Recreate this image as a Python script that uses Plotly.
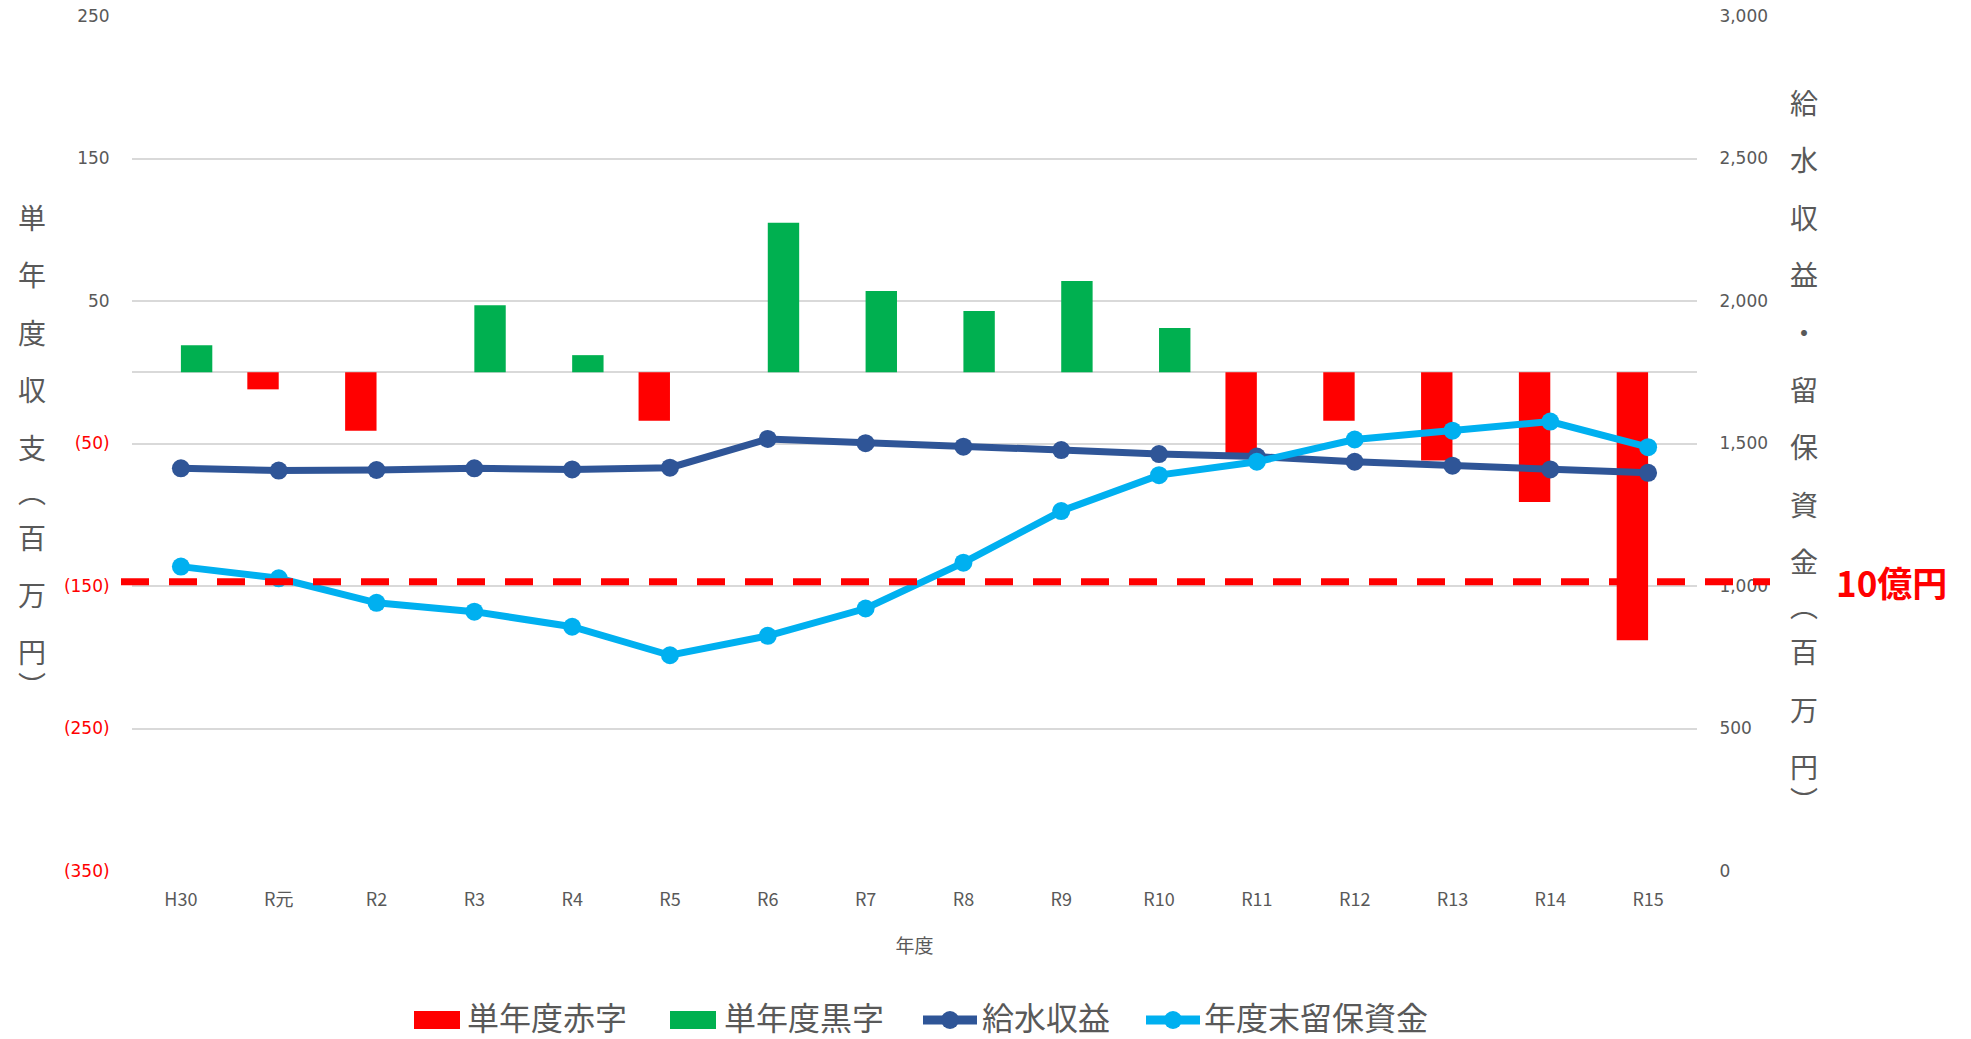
import plotly.graph_objects as go

# ── データ ─────────────────────────────
years = ["H30", "R元", "R2", "R3", "R4", "R5", "R6", "R7",
         "R8", "R9", "R10", "R11", "R12", "R13", "R14", "R15"]

# 単年度収支（百万円）
deficit = [None, -12, -41, None, None, -34, None, None,
           None, None, None, -57, -34, -62, -91, -188]
surplus = [19, None, None, 47, 12, None, 105, 57,
           43, 64, 31, None, None, None, None, None]

# 給水収益・年度末留保資金（百万円）
revenue = [1413, 1405, 1407, 1413, 1409, 1415, 1516, 1501,
           1489, 1477, 1463, 1454, 1436, 1422, 1409, 1397]
reserve = [1068, 1027, 941, 910, 857, 757, 825, 921,
           1082, 1263, 1389, 1436, 1514, 1545, 1577, 1487]

left_ticks = [-350, -250, -150, -50, 50, 150, 250]
right_ticks = [0, 500, 1000, 1500, 2000, 2500, 3000]
threshold = 1015      # 10億円ライン（図上の位置）

RED, GREEN, NAVY, CYAN = "#FF0000", "#00B050", "#2F5597", "#00B0F0"
GRAY = "#595959"
FONT = "Noto Sans CJK JP"

# ページ上のプロット領域（body の 8px マージン分を差し引いて配置）
PAGE_OFF = 8
PL, PR, PT, PB = 132, 1697, 16, 871
FIG_W, FIG_H = 1971 - PAGE_OFF, 1039 - PAGE_OFF


def px(x):
    return (x - PL) / (PR - PL)


def py(y):
    return (PB - y) / (PB - PT)


def left_label(v):
    if v < 0:
        return f"<span style='color:{RED}'>({abs(v)})</span>"
    return str(v)


fig = go.Figure()

fig.add_trace(go.Bar(x=years, y=deficit, name="単年度赤字",
                     marker_color=RED, marker_line_width=0))
fig.add_trace(go.Bar(x=years, y=surplus, name="単年度黒字",
                     marker_color=GREEN, marker_line_width=0))
fig.add_trace(go.Scatter(x=years, y=revenue, name="給水収益", yaxis="y2",
                         mode="lines+markers",
                         line=dict(color=NAVY, width=7),
                         marker=dict(size=18, color=NAVY)))
fig.add_trace(go.Scatter(x=years, y=reserve, name="年度末留保資金", yaxis="y2",
                         mode="lines+markers",
                         line=dict(color=CYAN, width=7),
                         marker=dict(size=18, color=CYAN)))

# 10億円 破線
fig.add_shape(type="line", xref="paper", yref="y2",
              x0=px(121), x1=px(1770), y0=threshold, y1=threshold,
              line=dict(color=RED, width=7, dash="28px,20px"),
              layer="above")
fig.add_annotation(text="<b>10億円</b>", xref="paper", yref="y2",
                   x=px(1834), y=threshold, showarrow=False,
                   xanchor="left", yanchor="middle",
                   font=dict(size=35, color=RED, family=FONT))


# 縦書き軸タイトル
def vertical_title(chars, x0, y0):
    y = y0
    prev = None
    for ch in chars:
        if prev is not None:
            if ch == "︵":
                y += 44
            elif prev == "︵":
                y += 46
            elif ch == "︶":
                y += 34
            else:
                y += 57.4
        fig.add_annotation(text=ch, xref="paper", yref="paper",
                           x=px(x0), y=py(y), showarrow=False,
                           xanchor="center", yanchor="middle",
                           font=dict(size=28, color=GRAY, family=FONT))
        prev = ch


vertical_title(list("単年度収支︵百万円︶"), 32, 217)
vertical_title(list("給水収益・留保資金︵百万円︶"), 1804, 102)

# 凡例（Excel風の横長スウォッチ）
legend_items = [
    ("単年度赤字", "bar", RED, 414, 465),
    ("単年度黒字", "bar", GREEN, 670, 722),
    ("給水収益", "line", NAVY, 923, 980),
    ("年度末留保資金", "line", CYAN, 1146, 1202),
]
LEG_Y = 1020
for label, kind, color, sx, tx in legend_items:
    if kind == "bar":
        fig.add_shape(type="rect", xref="paper", yref="paper",
                      x0=px(sx), x1=px(sx + 46), y0=py(LEG_Y - 9), y1=py(LEG_Y + 9),
                      fillcolor=color, line_width=0)
    else:
        fig.add_shape(type="line", xref="paper", yref="paper",
                      x0=px(sx), x1=px(sx + 54), y0=py(LEG_Y), y1=py(LEG_Y),
                      line=dict(color=color, width=9))
        fig.add_shape(type="circle", xref="paper", yref="paper",
                      x0=px(sx + 18), x1=px(sx + 36),
                      y0=py(LEG_Y - 9), y1=py(LEG_Y + 9),
                      fillcolor=color, line_width=0)
    fig.add_annotation(text=label, xref="paper", yref="paper",
                       x=px(tx), y=py(LEG_Y - 4), showarrow=False,
                       xanchor="left", yanchor="middle",
                       font=dict(size=32, color=GRAY, family=FONT))

fig.update_layout(
    width=FIG_W, height=FIG_H,
    margin=dict(l=PL - PAGE_OFF, r=FIG_W - (PR - PAGE_OFF),
                t=PT - PAGE_OFF, b=FIG_H - (PB - PAGE_OFF)),
    plot_bgcolor="white", paper_bgcolor="white",
    barmode="group", bargap=0.358, bargroupgap=0,
    font=dict(family=FONT, color=GRAY),
    showlegend=False,
    xaxis=dict(
        range=[-0.5, len(years) - 0.5], automargin=False,
        title=dict(text="年度", font=dict(size=19, color=GRAY), standoff=30),
        tickfont=dict(size=18, color=GRAY, family=FONT),
        ticks="outside", ticklen=12, tickcolor="rgba(0,0,0,0)",
        showgrid=False, showline=False, zeroline=False,
    ),
    yaxis=dict(
        range=[-350, 250], tickvals=left_ticks, automargin=False,
        ticktext=[left_label(v) for v in left_ticks],
        ticklabeloverflow="allow",
        tickfont=dict(size=17, color=GRAY, family="DejaVu Sans"),
        ticks="outside", ticklen=18, tickcolor="rgba(0,0,0,0)",
        showgrid=True, gridcolor="#D9D9D9", gridwidth=1.5,
        zeroline=True, zerolinecolor="#D9D9D9", zerolinewidth=1.5,
        showline=False,
    ),
    yaxis2=dict(
        range=[0, 3000], tickvals=right_ticks, tickformat=",",
        overlaying="y", side="right", automargin=False,
        ticklabeloverflow="allow",
        tickfont=dict(size=17, color=GRAY, family="DejaVu Sans"),
        ticks="outside", ticklen=18, tickcolor="rgba(0,0,0,0)",
        showgrid=False, zeroline=False, showline=False,
    ),
)

fig.write_html("out.html")
